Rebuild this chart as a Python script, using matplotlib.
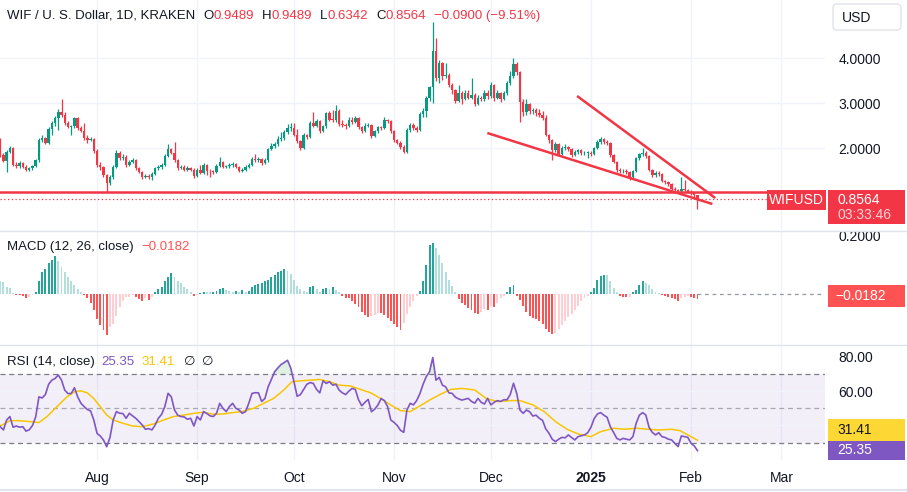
import numpy as np
import pandas as pd
import matplotlib
matplotlib.use("Agg")
import matplotlib.pyplot as plt
from matplotlib.patches import Rectangle, FancyBboxPatch

plt.rcParams['font.family'] = ['Liberation Sans', 'DejaVu Sans']

# ---- data (daily candles from 2024-07-02) ----
start = "2024-07-02"
first_open = 2.18
closes = [1.85, 1.72, 1.92, 2.00, 1.63, 1.60, 1.66, 1.58, 1.52, 1.55,
          1.60, 1.73, 2.18, 2.22, 2.12, 2.42, 2.56, 2.67, 2.81, 2.73,
          2.55, 2.47, 2.48, 2.67, 2.44, 2.38, 2.22, 2.18, 2.20, 1.94,
          1.62, 1.57, 1.40, 1.23, 1.36, 1.58, 1.90, 1.78, 1.80, 1.62,
          1.70, 1.73, 1.55, 1.47, 1.36, 1.38, 1.35, 1.42, 1.55, 1.57,
          1.62, 1.82, 1.97, 1.89, 1.73, 1.56, 1.58, 1.52, 1.55, 1.52,
          1.37, 1.52, 1.45, 1.62, 1.50, 1.48, 1.47, 1.60, 1.70, 1.58,
          1.60, 1.62, 1.65, 1.58, 1.50, 1.52, 1.58, 1.62, 1.76, 1.73,
          1.76, 1.66, 1.74, 1.97, 2.05, 2.08, 2.20, 2.22, 2.36, 2.44,
          2.45, 2.30, 2.15, 2.00, 2.29, 2.24, 2.55, 2.50, 2.60, 2.38,
          2.48, 2.77, 2.63, 2.62, 2.83, 2.53, 2.52, 2.50, 2.63, 2.57,
          2.66, 2.46, 2.38, 2.50, 2.52, 2.27, 2.37, 2.46, 2.44, 2.62,
          2.60, 2.38, 2.17, 2.12, 2.03, 1.92, 2.40, 2.51, 2.45, 2.40,
          2.76, 2.82, 3.12, 3.36, 4.16, 3.56, 3.89, 3.59, 3.62, 3.40,
          3.29, 3.05, 3.22, 3.10, 3.22, 3.12, 3.18, 2.98, 3.12, 3.08,
          3.22, 3.15, 3.40, 3.12, 3.22, 3.10, 3.22, 3.45, 3.60, 3.87,
          3.69, 3.03, 2.81, 2.98, 2.82, 2.85, 2.78, 2.73, 2.67, 2.29,
          2.18, 1.96, 2.08, 1.86, 2.00, 2.02, 1.98, 1.84, 1.92, 1.95,
          1.88, 1.90, 1.90, 1.86, 2.00, 2.14, 2.20, 2.14, 2.12, 1.84,
          1.70, 1.51, 1.48, 1.50, 1.46, 1.35, 1.48, 1.77, 1.86, 1.90,
          1.82, 1.51, 1.40, 1.45, 1.42, 1.27, 1.24, 1.20, 1.10, 1.07,
          1.05, 1.10, 1.07, 1.03, 0.99, 0.9489, 0.8564]
highs = [2.22, 1.90, 1.96, 2.04, 2.02, 1.70, 1.72, 1.68, 1.62, 1.58,
         1.63, 1.76, 2.22, 2.28, 2.25, 2.46, 2.60, 2.72, 2.86, 3.10,
         2.80, 2.60, 2.52, 2.70, 2.70, 2.48, 2.55, 2.28, 2.25, 2.22,
         1.98, 1.68, 1.60, 1.42, 1.40, 1.62, 1.96, 1.94, 1.86, 1.84,
         1.74, 1.78, 1.76, 1.58, 1.50, 1.42, 1.42, 1.46, 1.58, 1.62,
         1.66, 1.86, 2.08, 1.99, 2.14, 1.76, 1.62, 1.62, 1.59, 1.58,
         1.55, 1.56, 1.62, 1.66, 1.64, 1.54, 1.52, 1.64, 1.80, 1.72,
         1.63, 1.66, 1.70, 1.67, 1.60, 1.56, 1.62, 1.66, 1.80, 1.86,
         1.80, 1.78, 1.78, 2.00, 2.12, 2.14, 2.26, 2.36, 2.40, 2.53,
         2.55, 2.55, 2.42, 2.18, 2.33, 2.32, 2.60, 2.81, 2.65, 2.62,
         2.52, 2.80, 2.83, 2.85, 2.96, 2.86, 2.63, 2.56, 2.68, 2.68,
         2.72, 2.68, 2.50, 2.55, 2.56, 2.54, 2.40, 2.50, 2.50, 2.69,
         2.65, 2.62, 2.40, 2.20, 2.15, 2.06, 2.44, 2.56, 2.55, 2.50,
         2.80, 2.90, 3.16, 3.38, 4.81, 4.44, 3.95, 3.92, 3.89, 3.66,
         3.45, 3.32, 3.40, 3.26, 3.30, 3.28, 3.55, 3.22, 3.18, 3.16,
         3.30, 3.28, 3.46, 3.42, 3.28, 3.25, 3.26, 3.50, 3.72, 4.00,
         3.92, 3.72, 3.08, 3.08, 3.00, 2.90, 2.88, 2.86, 2.82, 2.74,
         2.32, 2.20, 2.14, 2.12, 2.05, 2.08, 2.05, 2.00, 1.96, 1.98,
         1.98, 1.93, 1.94, 1.93, 2.03, 2.18, 2.24, 2.22, 2.17, 2.14,
         1.86, 1.72, 1.55, 1.54, 1.53, 1.48, 1.52, 1.80, 1.90, 2.00,
         1.93, 1.84, 1.54, 1.48, 1.48, 1.44, 1.30, 1.27, 1.22, 1.14,
         1.10, 1.35, 1.28, 1.10, 1.06, 1.02, 0.9489]
lows = [1.80, 1.68, 1.47, 1.88, 1.60, 1.56, 1.56, 1.55, 1.50, 1.50,
        1.52, 1.58, 1.70, 2.14, 2.08, 2.10, 2.28, 2.50, 2.40, 2.70,
        2.52, 2.44, 2.30, 2.45, 2.40, 2.35, 2.18, 2.12, 2.15, 1.90,
        1.58, 1.52, 1.36, 1.03, 1.18, 1.32, 1.55, 1.74, 1.74, 1.58,
        1.60, 1.66, 1.52, 1.44, 1.32, 1.33, 1.32, 1.28, 1.40, 1.52,
        1.54, 1.60, 1.80, 1.86, 1.70, 1.52, 1.53, 1.49, 1.49, 1.48,
        1.34, 1.35, 1.42, 1.42, 1.40, 1.35, 1.43, 1.45, 1.58, 1.55,
        1.55, 1.56, 1.58, 1.55, 1.47, 1.46, 1.49, 1.55, 1.60, 1.70,
        1.70, 1.63, 1.64, 1.70, 1.95, 2.00, 2.04, 2.16, 2.18, 2.32,
        2.38, 2.26, 2.12, 1.96, 1.98, 2.20, 2.22, 2.46, 2.46, 2.34,
        2.35, 2.45, 2.60, 2.58, 2.58, 2.50, 2.46, 2.42, 2.47, 2.54,
        2.55, 2.43, 2.34, 2.35, 2.46, 2.22, 2.25, 2.34, 2.40, 2.42,
        2.56, 2.34, 2.14, 2.08, 1.98, 1.88, 1.90, 2.36, 2.40, 2.36,
        2.38, 2.68, 2.70, 3.05, 3.00, 3.50, 3.45, 3.52, 3.55, 3.36,
        3.20, 3.00, 3.02, 2.98, 3.06, 3.08, 3.08, 2.94, 2.95, 3.04,
        3.04, 3.10, 3.12, 3.05, 3.08, 3.02, 3.06, 3.18, 3.40, 3.55,
        3.62, 2.58, 2.72, 2.74, 2.76, 2.75, 2.72, 2.68, 2.62, 2.26,
        2.12, 1.73, 1.92, 1.82, 1.84, 1.96, 1.94, 1.80, 1.82, 1.86,
        1.84, 1.85, 1.78, 1.82, 1.84, 1.97, 2.10, 2.10, 2.06, 1.80,
        1.66, 1.47, 1.44, 1.45, 1.42, 1.30, 1.33, 1.46, 1.74, 1.82,
        1.78, 1.48, 1.36, 1.36, 1.38, 1.24, 1.20, 1.16, 1.07, 1.03,
        1.00, 1.02, 1.04, 0.99, 0.95, 0.90, 0.6342]

macd_hist = [0.045, 0.040, 0.025, 0.020, 0.003, -0.003, -0.004, -0.007, -0.013, -0.012,
             -0.005, 0.008, 0.046, 0.074, 0.085, 0.106, 0.117, 0.131, 0.115, 0.094,
             0.074, 0.060, 0.043, 0.031, 0.016, 0.005, -0.003, -0.015, -0.032, -0.055,
             -0.087, -0.107, -0.124, -0.141, -0.115, -0.103, -0.076, -0.046, -0.023, -0.011,
             -0.009, -0.005, -0.009, -0.016, -0.023, -0.015, -0.021, -0.011, 0.005, 0.016,
             0.025, 0.043, 0.060, 0.071, 0.060, 0.043, 0.037, 0.025, 0.016, 0.005,
             -0.006, -0.005, 0.002, 0.007, 0.007, 0.005, 0.007, 0.010, 0.016, 0.020,
             0.014, 0.010, 0.008, 0.011, 0.007, 0.014, 0.005, 0.011, 0.023, 0.030,
             0.034, 0.039, 0.044, 0.048, 0.057, 0.066, 0.075, 0.080, 0.085, 0.080,
             0.069, 0.048, 0.028, 0.016, 0.011, 0.008, 0.023, 0.028, 0.016, 0.008,
             0.016, 0.021, 0.018, 0.023, 0.014, 0.005, -0.007, -0.013, -0.015, -0.026,
             -0.034, -0.046, -0.061, -0.072, -0.080, -0.077, -0.072, -0.064, -0.067, -0.072,
             -0.084, -0.092, -0.103, -0.113, -0.124, -0.101, -0.069, -0.046, -0.023, -0.007,
             0.011, 0.046, 0.100, 0.169, 0.177, 0.157, 0.134, 0.106, 0.077, 0.048,
             0.028, 0.008, -0.018, -0.030, -0.038, -0.049, -0.057, -0.067, -0.069, -0.061,
             -0.053, -0.055, -0.041, -0.046, -0.030, -0.015, -0.007, 0.005, 0.025, 0.032,
             -0.006, -0.021, -0.041, -0.061, -0.076, -0.084, -0.087, -0.092, -0.103, -0.122,
             -0.130, -0.138, -0.136, -0.122, -0.107, -0.092, -0.080, -0.069, -0.055, -0.041,
             -0.026, -0.015, -0.007, 0.005, 0.020, 0.048, 0.062, 0.066, 0.064, 0.043,
             0.020, 0.005, -0.006, -0.009, -0.011, -0.009, 0.005, 0.014, 0.031, 0.043,
             0.039, 0.031, 0.016, 0.008, 0.002, -0.003, -0.007, -0.009, -0.015, -0.018,
             -0.026, -0.015, -0.009, -0.007, -0.009, -0.015, -0.0182]

rsi = [39.3, 37.4, 43.2, 45.2, 39.0, 39.7, 39.0, 39.3, 36.7, 37.5,
       40.0, 45.0, 56.7, 56.0, 58.0, 64.0, 66.4, 67.4, 69.4, 66.4,
       60.6, 58.6, 58.6, 62.0, 56.7, 53.0, 51.0, 49.3, 48.5, 43.2,
       35.4, 33.9, 31.5, 27.6, 33.0, 43.2, 48.1, 47.1, 47.0, 44.2,
       47.1, 45.6, 44.2, 42.3, 40.3, 37.8, 38.2, 37.4, 40.3, 44.2,
       46.5, 51.0, 58.7, 56.7, 49.0, 46.0, 45.2, 45.0, 43.6, 44.2,
       39.7, 45.2, 43.2, 48.1, 47.0, 45.6, 45.2, 47.1, 52.9, 50.0,
       48.1, 51.0, 52.9, 50.0, 49.0, 47.1, 48.1, 52.9, 58.7, 59.1,
       59.0, 54.0, 55.7, 62.5, 66.8, 71.3, 73.5, 75.5, 76.7, 78.0,
       73.5, 65.5, 57.0, 58.0, 61.0, 64.0, 65.0, 64.5, 61.0, 59.0,
       66.0, 64.5, 65.5, 63.5, 64.0, 60.6, 59.0, 58.0, 60.0, 61.6,
       61.0, 55.0, 51.5, 53.5, 55.2, 48.0, 49.5, 51.9, 55.7, 54.5,
       51.0, 43.2, 41.8, 40.0, 37.2, 36.0, 49.0, 52.9, 52.0, 54.5,
       58.5, 64.0, 68.5, 71.3, 79.6, 66.4, 68.0, 63.5, 62.5, 59.0,
       58.7, 56.5, 55.5, 54.8, 55.3, 55.8, 54.0, 53.0, 55.8, 53.5,
       52.5, 55.8, 52.0, 53.5, 54.5, 54.0, 55.0, 55.0, 58.0, 64.6,
       58.7, 49.0, 47.1, 49.0, 48.0, 45.5, 46.0, 44.2, 43.0, 38.0,
       35.5, 32.0, 30.6, 32.0, 33.1, 32.8, 34.5, 33.0, 31.6, 33.5,
       34.0, 34.5, 35.8, 39.0, 44.0, 46.7, 47.5, 46.0, 44.8, 39.3,
       36.0, 32.5, 31.6, 32.5, 32.0, 31.6, 33.5, 41.3, 46.0, 47.5,
       46.1, 38.9, 36.0, 34.5, 35.8, 33.5, 33.0, 32.0, 31.6, 29.5,
       27.7, 33.9, 33.5, 33.1, 29.6, 28.1, 25.35]

# RSI moving average, read at these day positions
rsi_ma_day = [0, 3, 6, 9, 12, 14.5, 17.6, 20.7, 23, 25, 27, 29, 31, 33, 35, 38, 41, 44,
              47.5, 50.6, 53.7, 57, 60, 63, 66, 69, 72, 75, 78.5, 81.6, 84.7, 87.8, 90.4,
              93, 96, 99, 102, 105, 108.5, 111.6, 114.7, 117.8, 121, 124, 127, 130, 133,
              136, 139.5, 143, 147, 150.5, 154, 158, 161, 165, 168.5, 172, 175.6, 179,
              183, 186, 190, 193.5, 197, 200.7, 204, 208, 210.6, 213, 216]
rsi_ma = [39.7, 42.8, 42.8, 42.3, 41.7, 45.2, 51.0, 56.7, 59.6, 60.2, 59.0, 55.7, 51.0,
          46.1, 43.2, 41.3, 39.7, 39.3, 40.9, 43.2, 45.2, 46.1, 47.1, 47.7, 46.5, 46.7,
          47.5, 48.1, 50.0, 52.9, 55.8, 60.6, 65.5, 66.0, 66.4, 66.8, 65.5, 63.5, 63.0,
          61.0, 59.1, 55.8, 51.9, 48.7, 48.1, 51.4, 54.8, 57.8, 61.0, 61.6, 60.7, 55.8,
          53.9, 54.5, 54.5, 52.0, 48.1, 42.3, 37.8, 35.1, 33.5, 36.4, 38.4, 37.8, 38.4,
          37.8, 37.4, 37.8, 37.0, 34.5, 31.41]

# drawn lines: (day, price)
upper_trend = [(178.7, 3.156), (221.5, 0.889)]
lower_trend = [(150.9, 2.333), (220.6, 0.756)]
support_level = 1.03
last_price = 0.8564

tick_months = ["2024-08-01", "2024-09-01", "2024-10-01", "2024-11-01",
               "2024-12-01", "2025-01-01", "2025-02-01", "2025-03-01"]
tick_labels = ["Aug", "Sep", "Oct", "Nov", "Dec", "2025", "Feb", "Mar"]

# ---- colours ----
UP, DOWN = '#089981', '#f23645'
TXT = '#131722'
GRID = '#f0f3fa'

W, H = 907, 492
fig = plt.figure(figsize=(W / 100, H / 100), dpi=100)


def pane(top, bottom):
    return fig.add_axes([0, 1 - bottom / H, 825 / W, (bottom - top) / H])


ax_p = pane(0, 230)
ax_m = pane(231, 345)
ax_r = pane(346, 460)

n = len(closes)
x = np.arange(n)
c = np.array(closes)
o = np.array([first_open] + closes[:-1])
hi = np.array(highs)
lo = np.array(lows)
t0 = pd.Timestamp(start)
month_pos = [(pd.Timestamp(m) - t0).days for m in tick_months]

for ax in (ax_p, ax_m, ax_r):
    ax.set_xlim(-0.06, 255.5)
    for s in ax.spines.values():
        s.set_visible(False)
    ax.set_xticks(month_pos)
    ax.grid(axis='x', color=GRID, lw=1)
    ax.yaxis.tick_right()
    ax.tick_params(axis='y', length=0, pad=9.5, labelsize=10, labelcolor=TXT)
    ax.tick_params(axis='x', length=0)
    ax.set_axisbelow(True)

# ---- price pane ----
up = c >= o
col = np.where(up, UP, DOWN)
ax_p.vlines(x, lo, hi, colors=col, lw=0.9, zorder=2)
ax_p.bar(x, np.maximum(np.abs(c - o), 0.02), bottom=np.minimum(o, c), width=0.75,
         color=col, lw=0, zorder=3)
ax_p.set_ylim(0.178, 5.289)
# 1.0000 sits under the price labels, so only the visible levels get text
ax_p.set_yticks([2, 3, 4])
ax_p.set_yticklabels(['%.4f' % v for v in [2, 3, 4]])
ax_p.axhline(1.0, color=GRID, lw=1, zorder=0)
ax_p.grid(axis='y', color=GRID, lw=1)
ax_p.set_xticklabels([])
ax_p.axhline(support_level, color=DOWN, lw=1.8, zorder=4)
ax_p.axhline(last_price, xmax=767 / 825, color=DOWN, lw=0.9, ls=(0, (1, 2)), zorder=4)
for line in (upper_trend, lower_trend):
    ax_p.plot([p[0] for p in line], [p[1] for p in line], color=DOWN, lw=1.8,
              solid_capstyle='butt', zorder=5)

# ---- MACD pane ----
h = np.array(macd_hist)
prev = np.concatenate([[h[0]], h[:-1]])
hcol = np.where(h >= 0, np.where(h > prev, '#26a69a', '#b2dfdb'),
                np.where(h < prev, '#ff5252', '#ffcdd2'))
ax_m.bar(x, h, width=0.6, color=hcol, lw=0)
ax_m.set_ylim(-0.176, 0.217)
ax_m.set_yticks([0.2])
ax_m.set_yticklabels(['0.2000'])
ax_m.set_xticklabels([])
ax_m.plot([n - 1, 255.5], [0, 0], color='#9598a1', lw=0.9, ls=(0, (3, 3)))

# ---- RSI pane ----
r = np.array(rsi)
ax_r.axhspan(30, 70, color='#7e57c2', alpha=0.09, lw=0)
for lvl, a in ((70, 1), (50, 0.6), (30, 1)):
    ax_r.axhline(lvl, color='#787b86', lw=0.9, ls=(0, (4, 3)), alpha=a)
for lvl in (60, 40):
    ax_r.axhline(lvl, color=GRID, lw=1)
ax_r.fill_between(x, 70, r, where=r > 70, interpolate=True, color='#4caf50', alpha=0.18, lw=0)
ax_r.plot(rsi_ma_day, rsi_ma, color='#f7c600', lw=1.1)
ax_r.plot(x, r, color='#7e57c2', lw=1.2)
ax_r.set_ylim(19.9, 86.3)
ax_r.set_yticks([80, 60])
ax_r.set_yticklabels(['80.00', '60.00'])
ax_r.set_xticklabels(tick_labels)
ax_r.tick_params(axis='x', pad=8, labelsize=10, labelcolor=TXT)
ax_r.get_xticklabels()[5].set_fontweight('bold')

# ---- overlay: titles, labels, separators ----
ov = fig.add_axes([0, 0, 1, 1], zorder=10)
ov.axis('off')
ov.set_xlim(0, W)
ov.set_ylim(H, 0)


def chain(xp, yp, parts, size=9.5):
    t = ov.text(xp, yp, parts[0][0], color=parts[0][1], fontsize=size, va='center', ha='left')
    for s, cc, gap in parts[1:]:
        t = ov.annotate(s, xy=(1, 0), xycoords=t, xytext=(gap, 0), textcoords='offset pixels',
                        color=cc, fontsize=size, va='bottom', ha='left')


chain(7, 16, [("WIF / U. S. Dollar, 1D, KRAKEN", TXT), ("O", TXT, 8), ("0.9489", DOWN, 0),
              ("H", TXT, 8), ("0.9489", DOWN, 0), ("L", TXT, 8), ("0.6342", DOWN, 0),
              ("C", TXT, 8), ("0.8564", DOWN, 0), ("\u22120.0900 (\u22129.51%)", DOWN, 8)])
chain(7, 247, [("MACD (12, 26, close)", TXT), ("\u22120.0182", '#ff5252', 8)])
chain(7, 362, [("RSI (14, close)", TXT), ("25.35", '#7e57c2', 7), ("31.41", '#f7c600', 7),
               ("\u2205", TXT, 9), ("\u2205", TXT, 6)])

for yy in (231, 345):
    ov.plot([0, W], [yy, yy], color='#e0e3eb', lw=1)
ov.plot([0, W], [490, 490], color='#e0e3eb', lw=1.5)

# USD box
ov.add_patch(FancyBboxPatch((833, 4), 68, 26, boxstyle='round,pad=0,rounding_size=4',
                            fc='white', ec='#e0e3eb', lw=1))
ov.text(842, 17.5, "USD", fontsize=10, color=TXT, va='center')


def label(x0, y0, x1, y1, fc):
    ov.add_patch(Rectangle((x0, y0), x1 - x0, y1 - y0, fc=fc, ec='none'))


label(767, 190, 826, 210, DOWN)
ov.text(796.5, 200.5, "WIFUSD", fontsize=10, color='white', va='center', ha='center')
label(828, 190, 905, 224, DOWN)
ov.text(837, 199.5, "0.8564", fontsize=10, color='white', va='center')
ov.text(837, 215, "03:33:46", fontsize=10, color='#fdd3d6', va='center')
label(828, 285, 905, 307, '#ff5252')
ov.text(835, 296, "\u22120.0182", fontsize=10, color='white', va='center')
label(828, 419, 905, 441, '#fdd835')
ov.text(837, 430, "31.41", fontsize=10, color=TXT, va='center')
label(828, 441, 905, 460, '#7e57c2')
ov.text(837, 450.5, "25.35", fontsize=10, color='white', va='center')

fig.savefig("out.png", dpi=100, facecolor='white')
